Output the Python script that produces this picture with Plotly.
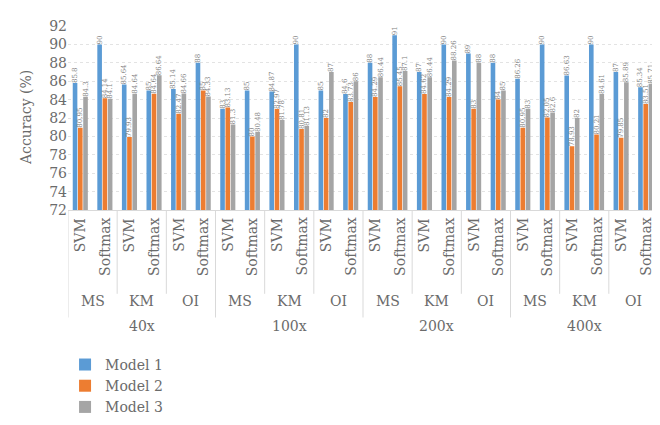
import plotly.graph_objects as go

magnifications = ["40x", "100x", "200x", "400x"]
datasets = ["MS", "KM", "OI"]
classifiers = ["SVM", "Softmax"]

model1 = [85.8, 90, 85.64, 85, 85.14, 88,
          83, 85, 84.87, 90, 85, 84.6,
          88, 91, 87, 90, 89, 88,
          86.26, 90, 86.63, 90, 87, 85.34]
model2 = [80.95, 84.14, 79.93, 84.64, 82.47, 85,
          83.13, 80, 82.97, 80.81, 82, 83.73,
          84.29, 85.45, 84.62, 84.29, 83, 84,
          80.95, 82.05, 78.93, 80.21, 79.85, 83.51]
model3 = [84.3, 84.1, 84.64, 86.64, 84.66, 84.33,
          81.3, 80.48, 81.78, 81.13, 87, 86,
          86.44, 87.1, 86.44, 88.26, 88, 85,
          83, 82.6, 82, 84.61, 85.89, 85.71]

series = [("Model 1", model1, "#5B9BD5"),
          ("Model 2", model2, "#ED7D31"),
          ("Model 3", model3, "#A5A5A5")]

n = len(magnifications) * len(datasets) * len(classifiers)
xs = list(range(n))
FONT = "DejaVu Serif"
GRAY = "#6b6b6b"

fig = go.Figure()
for name, vals, col in series:
    fig.add_trace(go.Bar(
        x=xs, y=vals, name=name, marker=dict(color=col, line=dict(width=0)),
        text=[f"{v:g}" for v in vals], textposition="outside", textangle=-90,
        textfont=dict(size=7, color="#7f7f7f", family=FONT),
        constraintext="none", cliponaxis=False,
    ))

annotations = []
shapes = []
lab_col = "#6b6b6b"
for i in xs:
    annotations.append(dict(x=i, y=0, xref="x", yref="paper", text=classifiers[i % 2],
                            textangle=-90, xanchor="center", yanchor="top", yshift=-6,
                            showarrow=False, font=dict(size=14, family=FONT, color=lab_col)))
for k in range(n // 2):
    annotations.append(dict(x=2 * k + 0.5, y=0, xref="x", yref="paper",
                            text=datasets[k % 3], yanchor="middle", yshift=-91,
                            showarrow=False, font=dict(size=14, family=FONT, color=lab_col)))
for m, mag in enumerate(magnifications):
    annotations.append(dict(x=6 * m + 2.5, y=0, xref="x", yref="paper",
                            text=mag, yanchor="middle", yshift=-116,
                            showarrow=False, font=dict(size=14, family=FONT, color=lab_col)))
annotations.append(dict(x=0, y=0.5, xref="paper", yref="paper", text="Accuracy (%)",
                        textangle=-90, xanchor="center", yanchor="middle", xshift=-42,
                        showarrow=False, font=dict(size=14, family=FONT, color=GRAY)))

ph = 202
for k in range(n // 2 + 1):
    xline = 2 * k - 0.5
    long = (k % 3 == 0)
    depth = 118 if long else 92
    shapes.append(dict(type="line", xref="x", yref="paper", x0=xline, x1=xline,
                       y0=0, y1=-depth / ph, line=dict(color="#d9d9d9", width=1)))

fig.update_layout(
    width=660, height=425,
    margin=dict(l=60, r=10, t=16, b=207),
    paper_bgcolor="white", plot_bgcolor="white",
    barmode="group", bargap=0.36, bargroupgap=0.12,
    font=dict(family=FONT, color=GRAY),
    xaxis=dict(range=[-0.5, n - 0.5], showticklabels=False, showgrid=False,
               zeroline=False, showline=True, linecolor="#d9d9d9", ticks=""),
    yaxis=dict(range=[72, 92], dtick=2, showgrid=True, gridcolor="#e3e3e3",
               griddash="dot", zeroline=False, showline=False,
               tickfont=dict(size=14, family=FONT, color=GRAY)),
    legend=dict(x=-0.005, y=-0.755, xanchor="left", yanchor="top", orientation="v",
                font=dict(size=14, family=FONT, color=GRAY), tracegroupgap=0,
                itemwidth=30),
    annotations=annotations, shapes=shapes,
    showlegend=True,
)

fig.write_html("out.html")
